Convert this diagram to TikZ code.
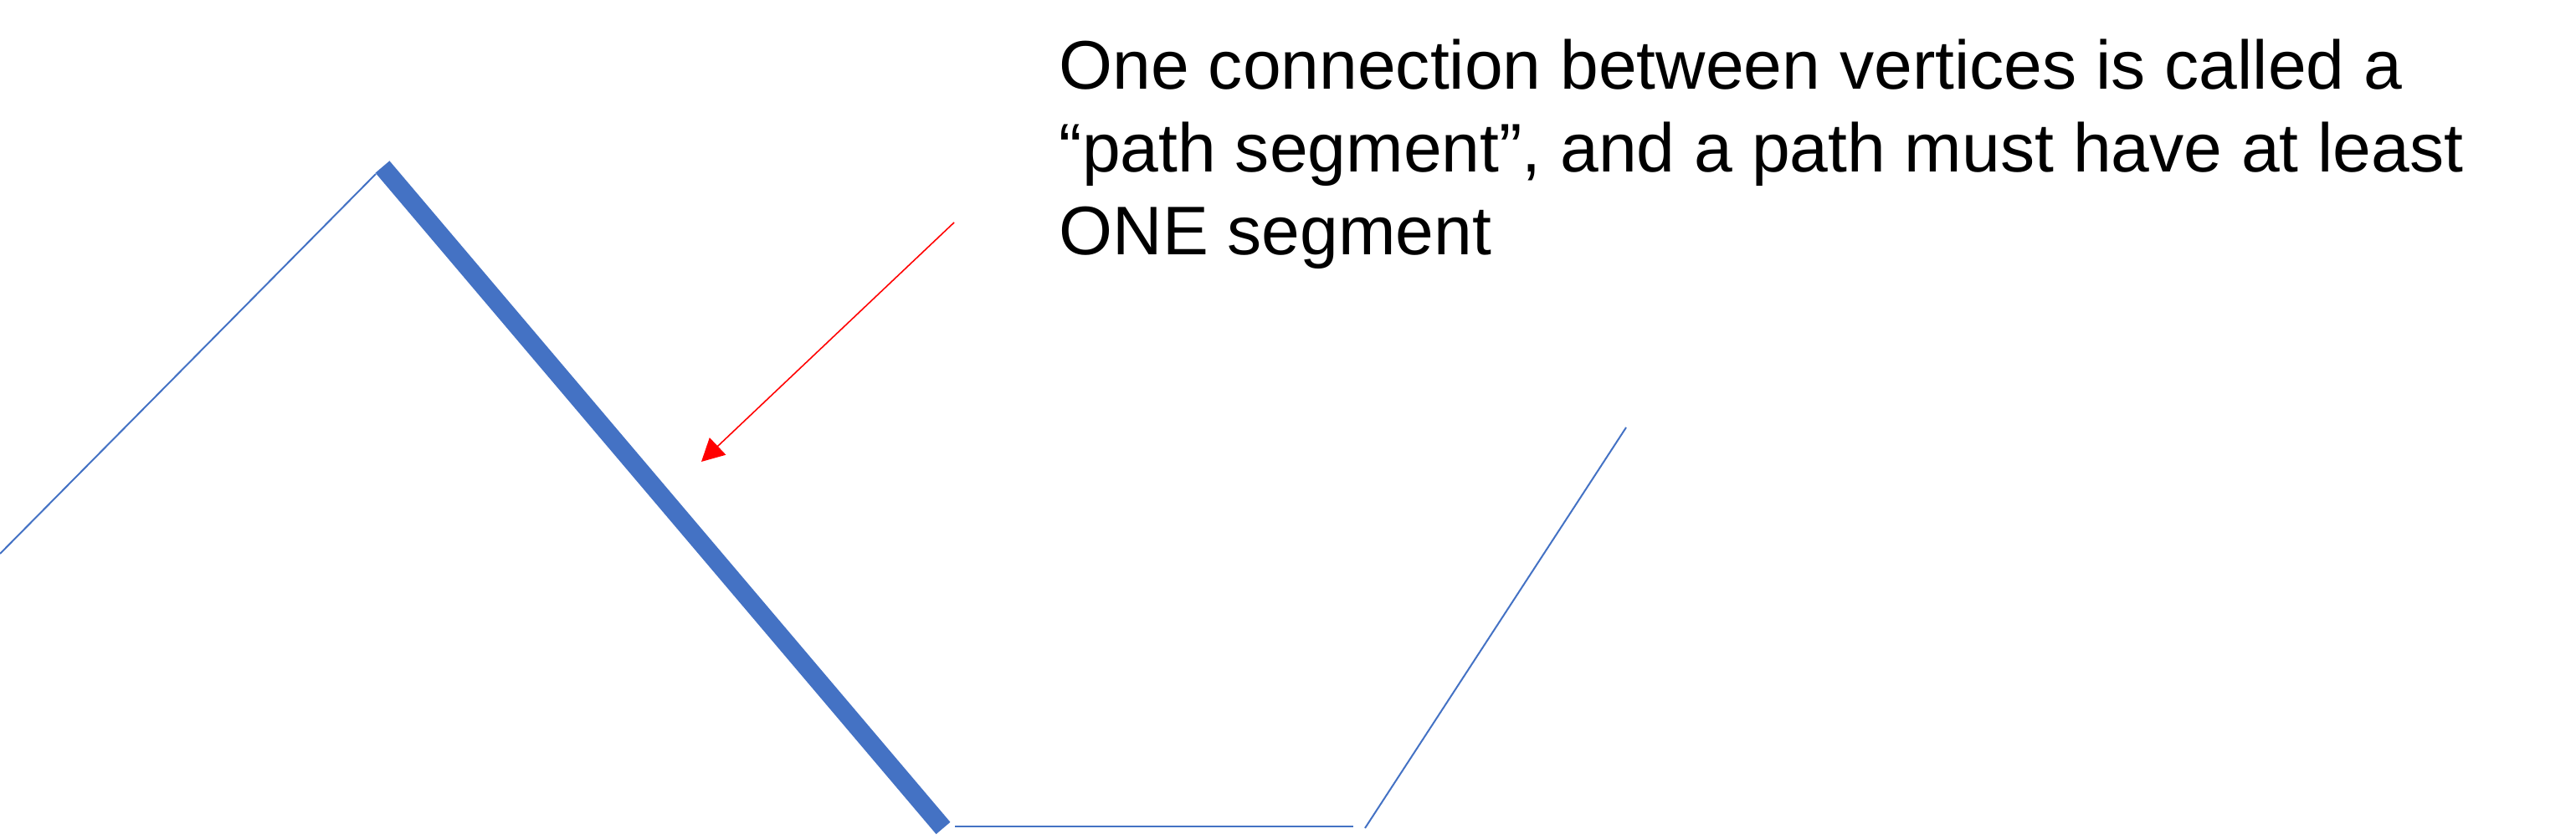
\documentclass[tikz,border=0pt]{standalone}
\usepackage{fontspec}
\setmainfont{Liberation Sans}
\usetikzlibrary{arrows.meta}

\definecolor{segblue}{HTML}{4472C4}

\begin{document}
\begin{tikzpicture}[x=1cm, y=-1cm,
    thinseg/.style={segblue, line width=0.57pt},
    thickseg/.style={segblue, line width=6.3pt},
    pointer/.style={red, line width=0.45pt, -{Triangle[length=0.27cm, width=0.28cm]}}]
      \useasboundingbox (0,0) rectangle (30.78,10.03);

      % 1. vertices of the path
      \coordinate (A) at (0,6.62);
      \coordinate (B) at (4.49,2.08);
      \coordinate (B1) at (4.57,1.995);
      \coordinate (C) at (11.27,9.90);
      \coordinate (C1) at (11.41,9.88);
      \coordinate (D) at (16.17,9.88);
      \coordinate (D1) at (16.31,9.90);
      \coordinate (E) at (19.43,5.11);

      % 2. the segments, one of them highlighted
      \draw[thinseg] (A) -- (B);
      \draw[thickseg] (B1) -- (C);
      \draw[thinseg] (C1) -- (D);
      \draw[thinseg] (D1) -- (E);

      % 3. the note and its arrow
      \node[anchor=north west, align=left, inner sep=0pt,
            font=\fontsize{23.4}{28.2}\selectfont] (note) at (12.65,0.46)
        {One connection between vertices is called a\\
         “path segment”, and a path must have at least\\
         ONE segment};
      \coordinate (P) at (11.40,2.66);
      \coordinate (Q) at (8.38,5.52);
      \draw[pointer] (P) -- (Q);
    \end{tikzpicture}
\end{document}
